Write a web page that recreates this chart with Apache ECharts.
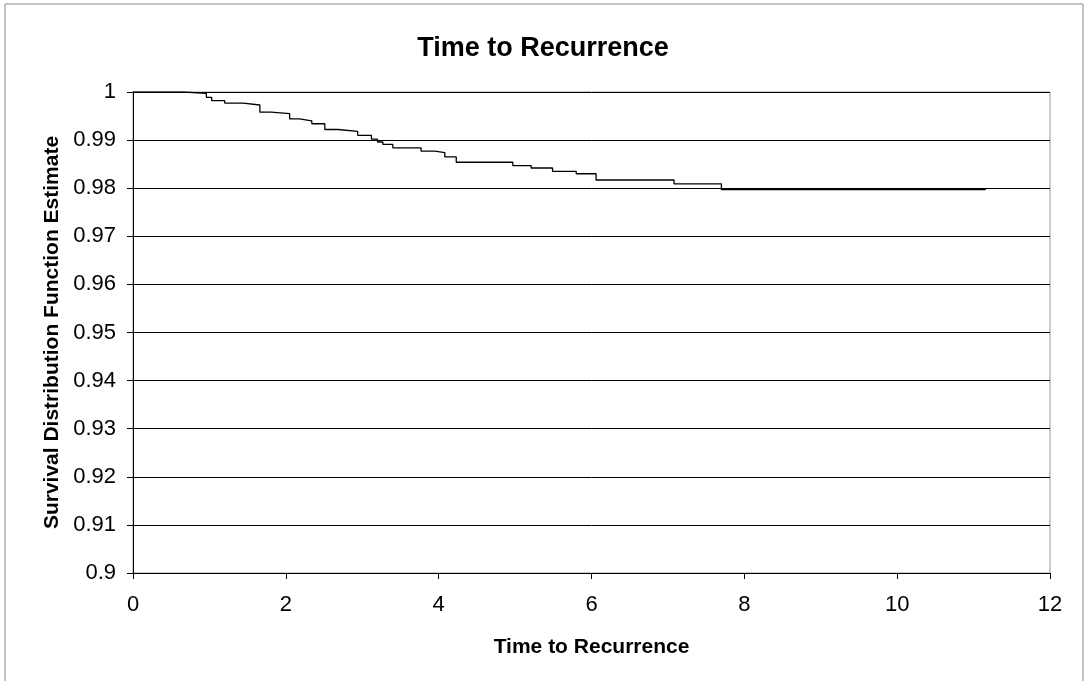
<!DOCTYPE html>
<html>
<head>
<meta charset="utf-8">
<script src="https://cdn.jsdelivr.net/npm/echarts@6/dist/echarts.min.js"></script>
<style>html,body{margin:0;padding:0;background:#fff;}#c{width:1086px;height:681px;}</style>
</head>
<body>
<div id="c"></div>
<script>
const times = [0, 0.66, 0.96, 1.03, 1.2, 1.44, 1.66, 1.81, 2.05, 2.18, 2.34, 2.51, 2.68, 2.94, 3.12, 3.2, 3.27, 3.4, 3.77, 3.95, 4.08, 4.23, 4.97, 5.21, 5.49, 5.8, 6.06, 7.08, 7.7, 11.16];
const survival = [1, 0.9997, 0.9989, 0.9982, 0.9977, 0.9973, 0.9958, 0.9955, 0.9944, 0.994, 0.9934, 0.9922, 0.9918, 0.991, 0.9902, 0.9896, 0.9891, 0.9884, 0.9877, 0.9874, 0.9865, 0.9854, 0.9847, 0.9842, 0.9835, 0.983, 0.9817, 0.9809, 0.9797, 0.9797];
const titleText = "Time to Recurrence";
const xName = "Time to Recurrence";
const yName = "Survival Distribution Function Estimate";

const chart = echarts.init(document.getElementById('c'));
const font = 'Liberation Sans, Arial, sans-serif';
chart.setOption({
  animation: false,
  backgroundColor: '#fff',
  title: {
    text: titleText, left: 'center', top: 30,
    textStyle: {fontFamily: font, fontSize: 27, fontWeight: 'bold', color: '#000'}
  },
  graphic: [{
    type: 'rect', shape: {x: 5, y: 4, width: 1078, height: 690},
    style: {fill: 'none', stroke: '#888', lineWidth: 1}, silent: true
  }],
  grid: {left: 133, right: 36, top: 92, bottom: 108, show: true, borderColor: '#999', borderWidth: 1},
  xAxis: {
    type: 'value', min: 0, max: 12, interval: 2,
    name: xName, nameLocation: 'middle', nameGap: 64,
    nameTextStyle: {fontFamily: font, fontSize: 21, fontWeight: 'bold', color: '#000'},
    axisLine: {show: true, onZero: false, lineStyle: {color: '#000', width: 1}},
    axisTick: {show: true, inside: false, length: 6, lineStyle: {color: '#000'}},
    axisLabel: {fontFamily: font, fontSize: 22, color: '#000', margin: 21},
    splitLine: {show: false}
  },
  yAxis: {
    type: 'value', min: 0.9, max: 1, interval: 0.01,
    name: yName, nameLocation: 'middle', nameGap: 52, nameRotate: 90,
    nameTextStyle: {fontFamily: font, fontSize: 21, fontWeight: 'bold', color: '#000'},
    axisLine: {show: true, lineStyle: {color: '#000', width: 1}},
    axisTick: {show: true, inside: false, length: 6, lineStyle: {color: '#000'}},
    axisLabel: {fontFamily: font, fontSize: 22, color: '#000', margin: 17,
      formatter: v => String(parseFloat(v.toFixed(2)))},
    splitLine: {show: true, lineStyle: {color: '#000', width: 1}}
  },
  series: [{
    type: 'line', step: 'end', symbol: 'none',
    lineStyle: {color: '#000', width: 1.3},
    data: times.map((t, i) => [t, survival[i]])
  }]
});
</script>
</body>
</html>
